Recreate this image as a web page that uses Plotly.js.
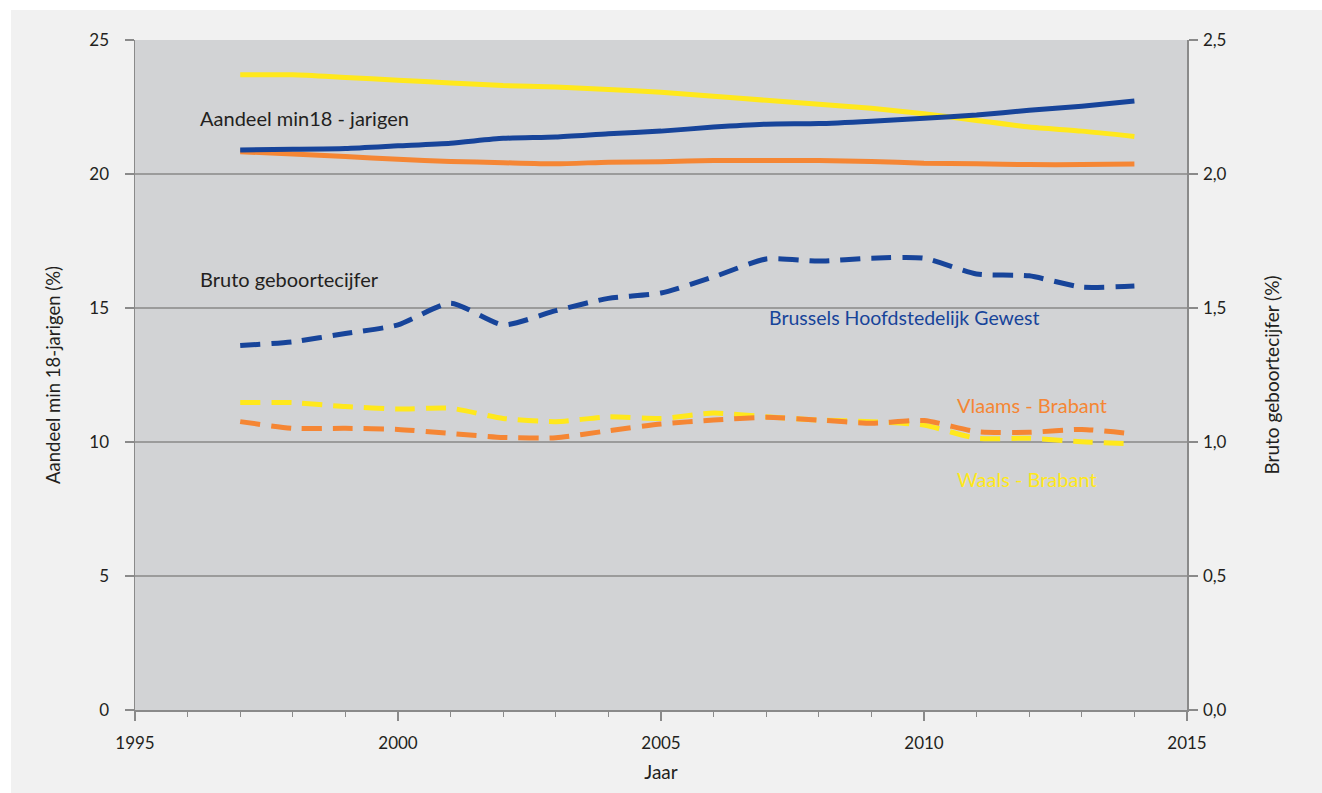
<!DOCTYPE html>
<html>
<head>
<meta charset="utf-8">
<script src="https://cdn.plot.ly/plotly-3.0.1.min.js"></script>
<style>
html,body{margin:0;padding:0;background:#ffffff;}
#chart{position:absolute;left:11px;top:10px;width:1311px;height:783px;}
</style>
</head>
<body>
<div id="chart"></div>
<script>
const years = [1997,1998,1999,2000,2001,2002,2003,2004,2005,2006,2007,2008,2009,2010,2011,2012,2013,2014];

// Aandeel min18-jarigen (%)
const min18Brussel = [20.9,20.92,20.95,21.05,21.15,21.33,21.38,21.5,21.6,21.75,21.86,21.88,21.97,22.08,22.2,22.38,22.53,22.72];
const min18Vlaams  = [20.83,20.75,20.65,20.55,20.47,20.42,20.38,20.44,20.46,20.5,20.5,20.5,20.47,20.4,20.38,20.35,20.35,20.37];
const min18Waals   = [23.7,23.7,23.6,23.5,23.4,23.3,23.25,23.15,23.05,22.9,22.75,22.6,22.45,22.25,22.0,21.75,21.6,21.4];

// Bruto geboortecijfer (%)
const geboorteBrussel = [1.36,1.374,1.405,1.437,1.518,1.437,1.49,1.536,1.556,1.616,1.683,1.675,1.686,1.686,1.627,1.62,1.578,1.582];
const geboorteVlaams  = [1.076,1.051,1.051,1.047,1.032,1.017,1.016,1.042,1.067,1.082,1.092,1.082,1.07,1.08,1.039,1.036,1.047,1.03];
const geboorteWaals   = [1.147,1.147,1.132,1.123,1.126,1.088,1.076,1.094,1.088,1.108,1.094,1.082,1.076,1.063,1.014,1.014,1.001,0.993];

const labelTexts = ["Aandeel min18 - jarigen","Bruto geboortecijfer","Brussels Hoofdstedelijk Gewest","Vlaams - Brabant","Waals - Brabant"];

const BLUE = '#17449a', ORANGE = '#f58634', YELLOW = '#ffe81c';
const FONT = 'Lato, "Open Sans", sans-serif';
const TXT = '#231f20';
const DASH = '20px,11px';

function solid(y, color, name){
  return {x: years, y: y, type:'scatter', mode:'lines', name:name, yaxis:'y',
    line:{color:color, width:5, shape:'spline', smoothing:0.6}, hoverinfo:'skip'};
}
function dashed(y, color, name){
  return {x: years, y: y, type:'scatter', mode:'lines', name:name, yaxis:'y2',
    line:{color:color, width:5, dash:DASH, shape:'spline', smoothing:0.6}, hoverinfo:'skip'};
}

const data = [
  solid(min18Waals, YELLOW, 'Waals-Brabant min18'),
  solid(min18Vlaams, ORANGE, 'Vlaams-Brabant min18'),
  solid(min18Brussel, BLUE, 'Brussel min18'),
  dashed(geboorteWaals, YELLOW, 'Waals-Brabant geboorte'),
  dashed(geboorteVlaams, ORANGE, 'Vlaams-Brabant geboorte'),
  dashed(geboorteBrussel, BLUE, 'Brussel geboorte')
];

const AX = '#8a8a8a';
const layout = {
  width:1311, height:783,
  margin:{l:124, r:135, t:30, b:83},
  paper_bgcolor:'#f1f1f1',
  plot_bgcolor:'#d2d3d5',
  separators:',.',
  showlegend:false,
  font:{family:FONT, color:TXT, size:17},
  xaxis:{
    range:[1995,2015], dtick:5, tick0:1995,
    showgrid:false, zeroline:false,
    showline:true, linecolor:AX, linewidth:1.5,
    ticks:'outside', ticklen:9, tickcolor:AX, tickwidth:1.5,
    minor:{dtick:1, ticks:'outside', ticklen:5, tickcolor:AX, tickwidth:1.2},
    tickfont:{size:17, family:FONT, color:TXT},
    ticklabelstandoff:8,
    title:{text:'Jaar', font:{size:19, family:FONT, color:TXT}, standoff:14}
  },
  yaxis:{
    range:[0,25], dtick:5, tick0:0,
    showgrid:true, gridcolor:'#9b9b9b', gridwidth:1.3,
    zeroline:false,
    showline:true, linecolor:AX, linewidth:1.5,
    ticks:'outside', ticklen:9, tickcolor:AX, tickwidth:1.3,
    tickfont:{size:17, family:FONT, color:TXT},
    ticklabelstandoff:12,
    title:{text:'Aandeel min 18-jarigen (%)', font:{size:18.5, family:FONT, color:TXT}, standoff:24}
  },
  yaxis2:{
    range:[0,2.5], dtick:0.5, tick0:0, tickformat:'.1f',
    overlaying:'y', side:'right',
    showgrid:false, zeroline:false,
    showline:true, linecolor:AX, linewidth:1.5,
    ticks:'outside', ticklen:9, tickcolor:AX, tickwidth:1.3,
    tickfont:{size:17, family:FONT, color:TXT},
    ticklabelstandoff:2,
    title:{text:'Bruto geboortecijfer (%)', font:{size:19, family:FONT, color:TXT}, standoff:40}
  },
  annotations:[
    {x:1996.2, y:22.09, xref:'x', yref:'y', text:labelTexts[0], showarrow:false, xanchor:'left', yanchor:'middle', font:{size:20, family:FONT, color:TXT}},
    {x:1996.2, y:16.08, xref:'x', yref:'y', text:labelTexts[1], showarrow:false, xanchor:'left', yanchor:'middle', font:{size:20, family:FONT, color:TXT}},
    {x:2007.02, y:14.66, xref:'x', yref:'y', text:labelTexts[2], showarrow:false, xanchor:'left', yanchor:'middle', font:{size:19.5, family:FONT, color:BLUE}},
    {x:2010.58, y:11.38, xref:'x', yref:'y', text:labelTexts[3], showarrow:false, xanchor:'left', yanchor:'middle', font:{size:20, family:FONT, color:ORANGE}},
    {x:2010.58, y:8.62, xref:'x', yref:'y', text:labelTexts[4], showarrow:false, xanchor:'left', yanchor:'middle', font:{size:20, family:FONT, color:YELLOW}}
  ]
};

Plotly.newPlot('chart', data, layout, {staticPlot:true, displayModeBar:false});
</script>
</body>
</html>
